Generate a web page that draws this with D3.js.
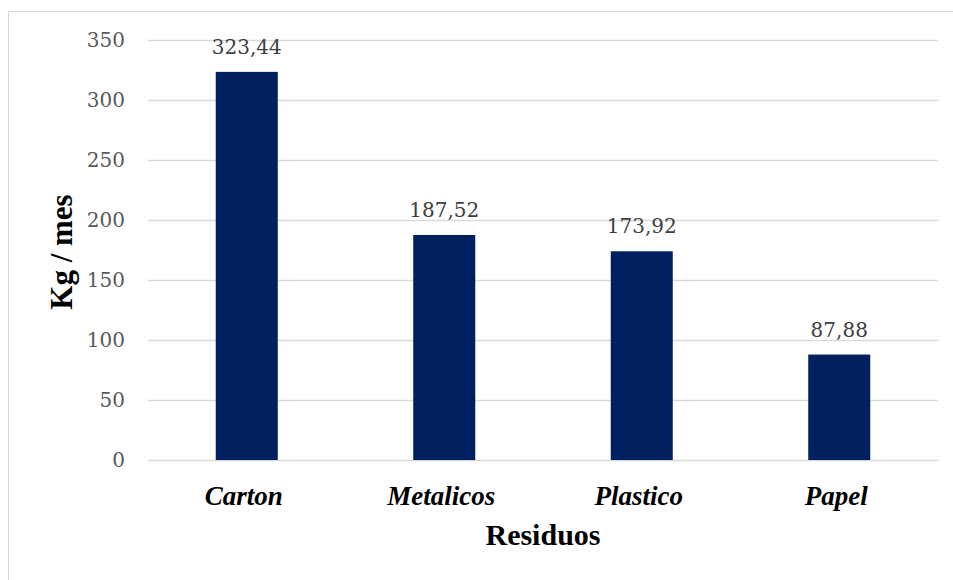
<!DOCTYPE html>
<html>
<head>
<meta charset="utf-8">
<script src="https://cdn.jsdelivr.net/npm/d3@7/dist/d3.min.js"></script>
<style>
  html, body { margin: 0; padding: 0; background: #fff; }
  svg { display: block; }
</style>
</head>
<body>
<svg id="chart" width="953" height="580"></svg>
<script>
// Monthly waste by type (kg / month)
const categories = ["Carton", "Metalicos", "Plastico", "Papel"];
const values = [323.44, 187.52, 173.92, 87.88];
const yTicks = [0, 50, 100, 150, 200, 250, 300, 350];
const xTitle = "Residuos";
const yTitle = "Kg / mes";

const svg = d3.select("#chart");
const W = 953, H = 580;
const margin = { left: 148, right: 15, top: 40, bottom: 120 };
const plotW = W - margin.left - margin.right;
const plotH = H - margin.top - margin.bottom;

// outer chart frame
svg.append("rect")
  .attr("x", 8.5).attr("y", 11.5)
  .attr("width", 960).attr("height", 600)
  .attr("fill", "#fff")
  .attr("stroke", "#d9d9d9").attr("stroke-width", 1);

const g = svg.append("g").attr("transform", `translate(${margin.left},${margin.top})`);

const x = d3.scaleBand().domain(categories).range([0, plotW]).paddingInner(0.686).paddingOuter(0.343);
const y = d3.scaleLinear().domain([0, 350]).range([plotH, 0]);

const numFmt = v => d3.format(".2f")(v).replace(".", ",");

// horizontal gridlines + tick labels
const yAxis = d3.axisLeft(y).tickValues(yTicks).tickSize(-plotW).tickPadding(23).tickFormat(d3.format("d"));
const ya = g.append("g").call(yAxis);
ya.select(".domain").remove();
ya.selectAll(".tick line").attr("stroke", "#d9d9d9").attr("stroke-width", 1.5);
ya.selectAll(".tick text")
  .attr("fill", "#595959")
  .style("font-family", "'DejaVu Serif', serif")
  .style("font-size", "20px");

// bars
g.selectAll("rect.bar").data(values).join("rect")
  .attr("class", "bar")
  .attr("x", (d, i) => x(categories[i]))
  .attr("y", d => y(d))
  .attr("width", x.bandwidth())
  .attr("height", d => plotH - y(d))
  .attr("fill", "#002060");

// value labels
g.selectAll("text.val").data(values).join("text")
  .attr("class", "val")
  .attr("x", (d, i) => x(categories[i]) + x.bandwidth() / 2)
  .attr("y", d => y(d) - 18)
  .attr("text-anchor", "middle")
  .attr("fill", "#404040")
  .style("font-family", "'DejaVu Serif', serif")
  .style("font-size", "20px")
  .text(d => numFmt(d));

// category labels
const xAxis = d3.axisBottom(x).tickSize(0).tickPadding(26);
const xa = g.append("g").attr("transform", `translate(0,${plotH})`).call(xAxis);
xa.select(".domain").remove();
xa.selectAll(".tick text")
  .attr("fill", "#000")
  .attr("dx", -3)
  .style("font-family", "'Liberation Serif', 'Times New Roman', serif")
  .style("font-weight", "bold")
  .style("font-style", "italic")
  .style("font-size", "27px");

// axis titles
svg.append("text")
  .attr("x", margin.left + plotW / 2)
  .attr("y", 545)
  .attr("text-anchor", "middle")
  .attr("fill", "#000")
  .style("font-family", "'Liberation Serif', 'Times New Roman', serif")
  .style("font-weight", "bold")
  .style("font-size", "30px")
  .text(xTitle);

svg.append("text")
  .attr("transform", `translate(72,${margin.top + plotH / 2 + 2}) rotate(-90)`)
  .attr("text-anchor", "middle")
  .attr("fill", "#000")
  .style("font-family", "'Liberation Serif', 'Times New Roman', serif")
  .style("font-weight", "bold")
  .style("font-size", "31px")
  .text(yTitle);
</script>
</body>
</html>
